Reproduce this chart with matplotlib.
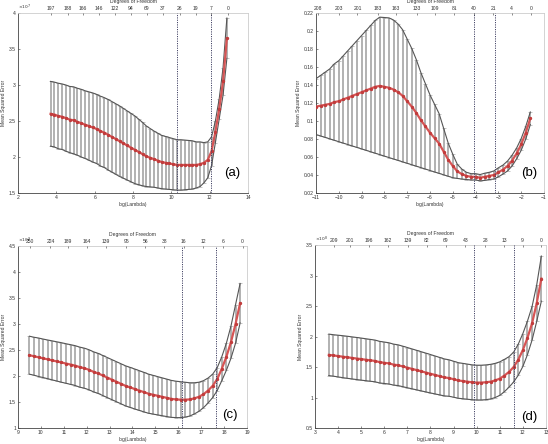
import matplotlib
matplotlib.use("Agg")
import matplotlib.pyplot as plt
import numpy as np

plt.rcParams['font.family'] = ['Liberation Sans', 'DejaVu Sans']

# ---- panel (a) ----
xa = [3.7, 3.9, 4.1, 4.3, 4.5, 4.7, 4.9, 5.1, 5.3, 5.5, 5.7, 5.9, 6.1, 6.3, 6.5, 6.7,
      6.9, 7.1, 7.3, 7.5, 7.7, 7.9, 8.1, 8.3, 8.5, 8.7, 8.9, 9.1, 9.3, 9.5, 9.7, 9.9,
      10.1, 10.3, 10.5, 10.7, 10.9, 11.1, 11.3, 11.5, 11.7, 11.9, 12.1, 12.3, 12.5, 12.7, 12.9]
mse_a = [2.60, 2.59, 2.57, 2.56, 2.54, 2.52, 2.51, 2.49, 2.47, 2.45, 2.43, 2.41, 2.39, 2.36, 2.34, 2.31,
         2.28, 2.25, 2.22, 2.19, 2.16, 2.13, 2.10, 2.07, 2.04, 2.01, 1.99, 1.97, 1.95, 1.93, 1.92, 1.91,
         1.90, 1.89, 1.89, 1.89, 1.89, 1.89, 1.89, 1.90, 1.92, 1.96, 2.08, 2.35, 2.67, 3.05, 3.65]
sd_a = [0.45, 0.45, 0.455, 0.455, 0.46, 0.46, 0.465, 0.465, 0.47, 0.47, 0.475, 0.48, 0.48, 0.485, 0.485, 0.49,
        0.49, 0.49, 0.49, 0.485, 0.48, 0.475, 0.47, 0.455, 0.44, 0.42, 0.405, 0.39, 0.38, 0.37, 0.365, 0.36,
        0.355, 0.35, 0.35, 0.345, 0.34, 0.335, 0.32, 0.31, 0.28, 0.25, 0.20, 0.15, 0.14, 0.19, 0.28]
vl_a = [10.28, 12.07]
dofpos_a = [3.72, 4.61, 5.39, 6.22, 7.06, 7.89, 8.73, 9.56, 10.45, 11.28, 12.07, 12.96]
doflab_a = ['197', '188', '166', '146', '122', '94', '69', '37', '26', '19', '7', '0']

# ---- panel (b) ----
xb = [-11.0, -10.8, -10.6, -10.4, -10.2, -10.0, -9.8, -9.6, -9.4, -9.2, -9.0, -8.8, -8.6, -8.4, -8.2,
      -8.0, -7.8, -7.6, -7.4, -7.2, -7.0, -6.8, -6.6, -6.4, -6.2, -6.0, -5.8, -5.6, -5.4, -5.2,
      -5.0, -4.8, -4.6, -4.4, -4.2, -4.0, -3.8, -3.6, -3.4, -3.2, -3.0, -2.8, -2.6, -2.4, -2.2,
      -2.0, -1.8, -1.6]
mse_b = [0.116, 0.117, 0.118, 0.119, 0.121, 0.122, 0.124, 0.126, 0.128, 0.130, 0.132, 0.134, 0.136, 0.138, 0.139,
         0.138, 0.137, 0.135, 0.132, 0.128, 0.122, 0.116, 0.109, 0.101, 0.094, 0.087, 0.081, 0.075, 0.066, 0.057,
         0.050, 0.044, 0.041, 0.039, 0.038, 0.038, 0.037, 0.038, 0.039, 0.040, 0.043, 0.046, 0.050, 0.056, 0.064,
         0.074, 0.087, 0.103]
sd_b = [0.031, 0.0336, 0.0362, 0.0388, 0.0424, 0.045, 0.0486, 0.0522, 0.0558, 0.0594, 0.063, 0.0666, 0.0702, 0.0738, 0.0764,
        0.077, 0.0776, 0.0772, 0.0758, 0.0734, 0.069, 0.0646, 0.0592, 0.0528, 0.0474, 0.042, 0.0376, 0.0332, 0.0258, 0.0184,
        0.013, 0.0078, 0.0055, 0.004, 0.0035, 0.0035, 0.0035, 0.004, 0.004, 0.0045, 0.005, 0.005, 0.0055, 0.006, 0.006,
        0.0065, 0.007, 0.007]
vl_b = [-4.09, -3.16]
dofpos_b = [-10.93, -10.01, -9.18, -8.30, -7.50, -6.58, -5.77, -4.94, -4.07, -3.23, -2.42, -1.58]
doflab_b = ['208', '203', '201', '183', '163', '133', '109', '81', '40', '21', '4', '0']

# ---- panel (c) ----
xc = [9.5, 9.7, 9.9, 10.1, 10.3, 10.5, 10.7, 10.9, 11.1, 11.3, 11.5, 11.7, 11.9, 12.1, 12.3, 12.5,
      12.7, 12.9, 13.1, 13.3, 13.5, 13.7, 13.9, 14.1, 14.3, 14.5, 14.7, 14.9, 15.1, 15.3, 15.5, 15.7,
      15.9, 16.1, 16.3, 16.5, 16.7, 16.9, 17.1, 17.3, 17.5, 17.7, 17.9, 18.1, 18.3, 18.5, 18.7]
mse_c = [2.40, 2.38, 2.36, 2.34, 2.32, 2.30, 2.28, 2.26, 2.24, 2.22, 2.20, 2.17, 2.15, 2.12, 2.08, 2.05,
         2.01, 1.97, 1.93, 1.89, 1.85, 1.81, 1.78, 1.75, 1.72, 1.69, 1.66, 1.64, 1.62, 1.60, 1.58, 1.56,
         1.55, 1.545, 1.545, 1.55, 1.57, 1.60, 1.65, 1.72, 1.81, 1.94, 2.14, 2.37, 2.65, 3.00, 3.40]
sd_c = [0.365, 0.365, 0.37, 0.37, 0.372, 0.375, 0.377, 0.38, 0.38, 0.382, 0.383, 0.385, 0.385, 0.385, 0.385, 0.385,
        0.385, 0.385, 0.385, 0.385, 0.385, 0.385, 0.385, 0.384, 0.382, 0.38, 0.376, 0.372, 0.368, 0.364, 0.36, 0.355,
        0.35, 0.345, 0.335, 0.32, 0.30, 0.28, 0.26, 0.24, 0.225, 0.22, 0.23, 0.26, 0.31, 0.37, 0.38]
vl_c = [16.18, 17.66]
dofpos_c = [9.51, 10.42, 11.19, 12.02, 12.84, 13.72, 14.55, 15.39, 16.23, 17.10, 17.95, 18.81]
doflab_c = ['250', '224', '189', '164', '139', '95', '56', '38', '16', '12', '6', '0']

# ---- panel (d) ----
xd = [3.6, 3.8, 4.0, 4.2, 4.4, 4.6, 4.8, 5.0, 5.2, 5.4, 5.6, 5.8, 6.0, 6.2, 6.4, 6.6,
      6.8, 7.0, 7.2, 7.4, 7.6, 7.8, 8.0, 8.2, 8.4, 8.6, 8.8, 9.0, 9.2, 9.4, 9.6, 9.8,
      10.0, 10.2, 10.4, 10.6, 10.8, 11.0, 11.2, 11.4, 11.6, 11.8, 12.0, 12.2, 12.4, 12.6, 12.8]
mse_d = [1.70, 1.69, 1.68, 1.67, 1.66, 1.65, 1.64, 1.63, 1.62, 1.61, 1.60, 1.58, 1.57, 1.56, 1.54, 1.53,
         1.51, 1.49, 1.47, 1.45, 1.43, 1.41, 1.39, 1.37, 1.35, 1.33, 1.32, 1.30, 1.28, 1.27, 1.26, 1.25,
         1.245, 1.245, 1.25, 1.26, 1.28, 1.31, 1.36, 1.42, 1.50, 1.62, 1.78, 1.98, 2.22, 2.55, 2.95]
sd_d = [0.34, 0.34, 0.342, 0.344, 0.345, 0.345, 0.345, 0.345, 0.344, 0.343, 0.342, 0.341, 0.34, 0.338, 0.336, 0.334,
        0.332, 0.33, 0.327, 0.324, 0.321, 0.318, 0.315, 0.311, 0.307, 0.303, 0.299, 0.295, 0.292, 0.29, 0.288, 0.286,
        0.285, 0.285, 0.285, 0.284, 0.28, 0.275, 0.265, 0.25, 0.245, 0.255, 0.27, 0.275, 0.275, 0.30, 0.37]
vl_d = [9.87, 11.63]
dofpos_d = [3.81, 4.50, 5.32, 6.15, 7.01, 7.83, 8.67, 9.51, 10.36, 11.20, 11.99, 12.78]
doflab_d = ['209', '201', '196', '162', '139', '82', '69', '43', '28', '13', '9', '0']

FS = 3.6
TXT = '#333333'


def panel(fig, rect, x, m, s, xlim, xticks, ylim, yticks, ylabs, vl, dpos, dlab, expo, tag, tagxy):
    ax = fig.add_axes(rect)
    x = np.array(x)
    m = np.array(m)
    s = np.array(s)
    ax.errorbar(x, m, yerr=s, fmt='none', ecolor='#ababab', elinewidth=1.3,
                capsize=1.6, capthick=0.5, zorder=2)
    ax.plot(x, m + s, color='#555555', lw=0.8, zorder=3)
    ax.plot(x, m - s, color='#555555', lw=0.8, zorder=3)
    ax.plot(x, m, color='#d65555', lw=1.6, marker='o', ms=1.4, mec='#c03a3a', zorder=4)
    for v in vl:
        ax.axvline(v, color='#444466', lw=0.7, ls=(0, (1.2, 1.2)), zorder=5)
    ax.set_xlim(xlim)
    ax.set_ylim(ylim)
    ax.set_xticks(xticks)
    ax.set_yticks(yticks)
    ax.set_yticklabels(ylabs)
    ax.tick_params(labelsize=FS, colors=TXT, length=1.5, width=0.4, direction='in', pad=1.5)
    ax.set_xlabel('log(Lambda)', fontsize=FS, color=TXT, labelpad=1.5)
    ax.set_ylabel('Mean Squared Error', fontsize=FS, color=TXT, labelpad=2)
    for side in ['left', 'bottom']:
        ax.spines[side].set_color('#444444')
        ax.spines[side].set_linewidth(0.6)
    for side in ['right', 'top']:
        ax.spines[side].set_color('#cccccc')
        ax.spines[side].set_linewidth(0.6)
    top = ax.twiny()
    top.set_xlim(xlim)
    top.set_xticks(dpos)
    top.set_xticklabels(dlab)
    top.tick_params(labelsize=FS, colors=TXT, length=1.2, width=0.4, direction='in', pad=1.5)
    top.set_xlabel('Degrees of Freedom', fontsize=FS, color=TXT, labelpad=2)
    for side in top.spines:
        top.spines[side].set_visible(False)
    if expo:
        ax.text(0.0, 1.004, expo, transform=ax.transAxes, fontsize=FS - 0.4, color=TXT,
                ha='left', va='bottom')
    fig.text(tagxy[0] / 548, 1 - tagxy[1] / 444, tag, fontsize=9.5, ha='center', va='center')
    return ax


fig = plt.figure(figsize=(5.48, 4.44), dpi=100)

panel(fig, [0.0328, 0.5653, 0.4197, 0.4054], xa, mse_a, sd_a, (2, 14), range(2, 15, 2),
      (1.5, 4), [1.5, 2, 2.5, 3, 3.5, 4], ['1.5', '2', '2.5', '3', '3.5', '4'],
      vl_a, dofpos_a, doflab_a, r'$\times10^{7}$', '(a)', (232, 173))

panel(fig, [0.5766, 0.5653, 0.4161, 0.4054], xb, mse_b, sd_b, (-11, -1), range(-11, 0),
      (0.02, 0.22), np.arange(0.02, 0.2201, 0.02),
      ['0.02', '0.04', '0.06', '0.08', '0.1', '0.12', '0.14', '0.16', '0.18', '0.2', '0.22'],
      vl_b, dofpos_b, doflab_b, None, '(b)', (529, 173))

panel(fig, [0.0328, 0.036, 0.4179, 0.41], xc, mse_c, sd_c, (9, 19), range(9, 20),
      (1, 4.5), [1, 1.5, 2, 2.5, 3, 3.5, 4, 4.5], ['1', '1.5', '2', '2.5', '3', '3.5', '4', '4.5'],
      vl_c, dofpos_c, doflab_c, r'$\times10^{9}$', '(c)', (230, 415))

panel(fig, [0.5748, 0.036, 0.4215, 0.412], xd, mse_d, sd_d, (3, 13), range(3, 14),
      (0.5, 3.5), [0.5, 1, 1.5, 2, 2.5, 3, 3.5], ['0.5', '1', '1.5', '2', '2.5', '3', '3.5'],
      vl_d, dofpos_d, doflab_d, r'$\times10^{8}$', '(d)', (529, 417))

fig.savefig('out.png', dpi=100)
